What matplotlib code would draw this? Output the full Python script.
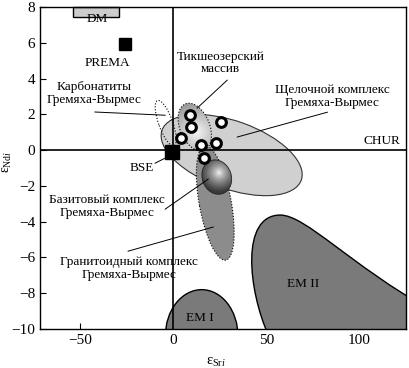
import numpy as np
import matplotlib.pyplot as plt
from matplotlib.patches import Ellipse, Rectangle, PathPatch
from matplotlib.path import Path
from matplotlib.transforms import Affine2D
from matplotlib.colors import LinearSegmentedColormap

plt.rcParams['font.family'] = ['Liberation Serif', 'DejaVu Serif']
plt.rcParams['mathtext.fontset'] = 'custom'
plt.rcParams['mathtext.rm'] = 'Liberation Serif'
plt.rcParams['mathtext.it'] = 'Liberation Serif:italic'

# образцы (открытые кружки)
sample_sr = [8.9, 9.4, 4.1, 25.5, 15.2, 23.2, 16.6]
sample_nd = [1.96, 1.27, 0.65, 1.55, 0.28, 0.37, -0.43]

# резервуары
prema = (-25.9, 5.93)
bse = (-0.8, -0.08)
dm_sr = [-54, -29]
dm_nd = [7.44, 8.0]

# поля: центр (eSr, eNd), полуоси в единицах eSr, угол
alk_field = (31.4, -0.28, 39.7, 18.2, -19.7)
tik_field = (11.6, 1.29, 13.4, 8.0, -68)
gran_field = (22.6, -2.96, 31.1, 8.6, -79.6)
carb_field = (-4.0, 1.51, 12.9, 3.75, -70)
bas_field = (23.4, -1.51, 9.4, 7.8, -70)
em1_field = (15.3, -10.4, 19.5, 2.6)

# контур EM II (кривые Безье)
em2_sr = [51.1, 40.3, 36.0, 57.5, 71.0, 95.2, 138.2, 138.2, 51.1, 51.1]
em2_nd = [-10.34, -7.83, -3.63, -3.63, -3.63, -6.43, -8.94, -10.6, -10.6, -10.34]

K = 1.866 / 17.89  # eNd на единицу eSr на рисунке

fig = plt.figure(figsize=(4.1, 3.68), dpi=100)
ax = fig.add_axes([40 / 410, 1 - 329 / 368, 366 / 410, 322 / 368])
ax.set_xlim(-71.5, 125)
ax.set_ylim(-10, 8)


def field(f, **kw):
    cx, cy, a, b, ang = f
    tr = Affine2D().scale(1, K) + ax.transData
    e = Ellipse((cx, cy / K), 2 * a, 2 * b, angle=ang, transform=tr, **kw)
    ax.add_patch(e)
    return e


def shade(patch, hx, hy, R, light, dark, z, p=1.0):
    bb = patch.get_window_extent()
    inv = ax.transData.inverted()
    (x0, y0), (x1, y1) = inv.transform([[bb.x0, bb.y0], [bb.x1, bb.y1]])
    X, Y = np.meshgrid(np.linspace(x0, x1, 200), np.linspace(y0, y1, 200))
    r = np.clip(np.hypot(X - hx, (Y - hy) / K) / R, 0, 1) ** p
    cmap = LinearSegmentedColormap.from_list('g', [light, dark])
    im = ax.imshow(r, extent=[x0, x1, y0, y1], origin='lower', cmap=cmap,
                   vmin=0, vmax=1, aspect='auto', zorder=z, interpolation='bilinear')
    im.set_clip_path(patch)


# щелочной комплекс
field(alk_field, facecolor='#d0d0d0', edgecolor='#333333', lw=0.8, zorder=2)
# гранитоидный комплекс
field(gran_field, facecolor='#8c8c8c', edgecolor='k', lw=0.8, ls=':', zorder=3)
# Тикшеозерский массив
tik = field(tik_field, facecolor='none', edgecolor='k', lw=0.8, ls=':', zorder=4.1)
shade(tik, 12.5, 1.0, 15, '#f4f4f4', '#9c9c9c', 4)
# базитовый комплекс
bas = field(bas_field, facecolor='none', edgecolor='#222222', lw=0.6, zorder=5.1)
shade(bas, 24.5, -1.3, 10, '#ffffff', '#3a3a3a', 5, p=0.7)
# карбонатиты
field(carb_field, facecolor='none', edgecolor='k', lw=0.8, ls=':', zorder=6)

# EM I, EM II
ax.add_patch(Ellipse(em1_field[:2], 2 * em1_field[2], 2 * em1_field[3],
                     facecolor='#7a7a7a', edgecolor='k', lw=1, zorder=2))
codes = [Path.MOVETO] + [Path.CURVE4] * 6 + [Path.LINETO] * 2 + [Path.CLOSEPOLY]
em2 = Path(np.column_stack([em2_sr, em2_nd]), codes)
ax.add_patch(PathPatch(em2, facecolor='#7a7a7a', edgecolor='k', lw=1, zorder=2))

# DM
ax.add_patch(Rectangle((dm_sr[0], dm_nd[0]), dm_sr[1] - dm_sr[0], dm_nd[1] - dm_nd[0],
                       facecolor='#cccccc', edgecolor='k', lw=1, zorder=2, clip_on=False))

ax.axhline(0, color='k', lw=1.2, zorder=7)
ax.axvline(0, color='k', lw=1.2, zorder=7)

ax.plot(sample_sr, sample_nd, 'o', ms=7, mfc='white', mec='k', mew=2.2, zorder=8)
ax.plot(*prema, 's', ms=9, color='k', zorder=9)
ax.plot(*bse, 's', ms=9.5, color='k', zorder=9)

fs = 9.5
ax.text(-41, 7.35, 'DM', ha='center', va='center', fontsize=fs, zorder=10)
ax.text(-35.5, 4.86, 'PREMA', ha='center', va='center', fontsize=fs, zorder=10)
ax.text(-16.7, -1.0, 'BSE', ha='center', va='center', fontsize=fs, zorder=10)
ax.text(122, 0.5, 'CHUR', ha='right', va='center', fontsize=fs, zorder=10)
ax.text(70, -7.5, 'EM II', ha='center', va='center', fontsize=fs, zorder=10)
ax.text(14.5, -9.4, 'EM I', ha='center', va='center', fontsize=fs, zorder=10)

labels = [
    ('Карбонатиты\nГремяха-Вырмес', (-42.5, 3.16), (-42, 2.13), (-4.3, 1.95)),
    ('Тикшеозерский\nмассив', (25.3, 4.86), (29, 3.91), (12.9, 2.35)),
    ('Щелочной комплекс\nГремяха-Вырмес', (85.5, 2.99), (82.8, 2.12), (34.4, 0.73)),
    ('Базитовый комплекс\nГремяха-Вырмес', (-35.5, -3.16), (-4.3, -3.3), (18.8, -1.62)),
    ('Гранитоидный комплекс\nГремяха-Вырмес', (-23.7, -6.62), (-24.2, -5.65), (21.5, -4.3)),
]
for txt, pos, p0, p1 in labels:
    ax.text(*pos, txt, ha='center', va='center', fontsize=fs, linespacing=1.05, zorder=10)
    ax.plot([p0[0], p1[0]], [p0[1], p1[1]], color='k', lw=0.7, zorder=7)
ax.plot([-9.7, -3.2], [-0.73, -0.39], color='k', lw=0.7, zorder=7)

ax.set_xticks([-50, 0, 50, 100])
ax.set_yticks(range(-10, 9, 2))
ax.tick_params(direction='in', length=4, labelsize=11, width=0.8)
for s in ax.spines.values():
    s.set_linewidth(1.0)
ax.set_xlabel('ε$_{\\mathrm{Sr}i}$', fontsize=10.5)
ax.set_ylabel('ε$_{\\mathrm{Nd}i}$', fontsize=10)
ax.xaxis.set_label_coords(0.481, -0.084)
ax.yaxis.set_label_coords(-0.07, 0.52)
ax.set_xlim(-71.5, 125)
ax.set_ylim(-10, 8)

fig.savefig('out.png', dpi=100)
